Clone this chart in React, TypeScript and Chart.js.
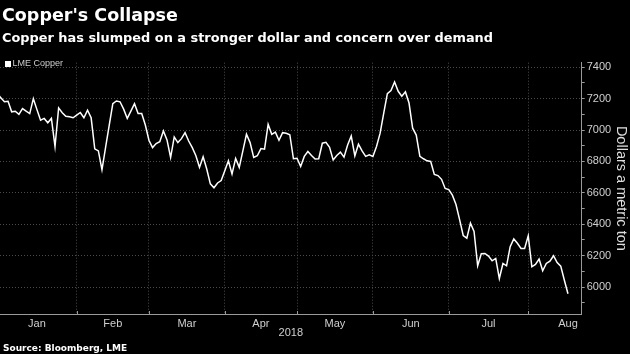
import { useEffect, useRef } from 'react';
import { Chart, registerables } from 'chart.js';

Chart.register(...registerables);

// Month labels and the trading-day index where each month starts (last entry = end of Aug)
const monthLabels = ['Jan', 'Feb', 'Mar', 'Apr', 'May', 'Jun', 'Jul', 'Aug'];
const monthStartIdx = [0, 22, 42, 63, 83, 104, 125, 147, 169];

// LME copper, dollars a metric ton, one value per trading day from Jan 2, 2018
const copperJan = [7235, 7205, 7180, 7183, 7116, 7120, 7100, 7137, 7120, 7105, 7200, 7130, 7063, 7074, 7046, 7074, 6895, 7141, 7110, 7088, 7084, 7078];
const copperFeb = [7095, 7112, 7078, 7126, 7078, 6880, 6867, 6747, 6890, 7030, 7168, 7185, 7180, 7133, 7074, 7120, 7168, 7105, 7105, 7032];
const copperMar = [6935, 6888, 6914, 6926, 6994, 6937, 6825, 6956, 6920, 6945, 6983, 6930, 6888, 6836, 6762, 6830, 6752, 6657, 6632, 6663, 6678];
const copperApr = [6741, 6804, 6720, 6819, 6762, 6867, 6973, 6920, 6825, 6836, 6882, 6878, 7036, 6973, 6987, 6935, 6983, 6979, 6970, 6817];
const copperMay = [6820, 6768, 6832, 6863, 6838, 6815, 6817, 6916, 6922, 6890, 6810, 6838, 6859, 6827, 6905, 6962, 6836, 6910, 6867, 6832, 6842];
const copperJun = [6832, 6895, 6980, 7108, 7232, 7251, 7306, 7247, 7215, 7243, 7172, 7012, 6968, 6832, 6817, 6804, 6800, 6717, 6710, 6686, 6628];
const copperJul = [6621, 6585, 6525, 6429, 6328, 6311, 6407, 6354, 6135, 6212, 6214, 6197, 6167, 6182, 6054, 6150, 6135, 6257, 6306, 6279, 6246, 6246];
const copperAug = [6326, 6129, 6144, 6178, 6103, 6150, 6165, 6199, 6156, 6133, 6043, 5957];

const copper = [...copperJan, ...copperFeb, ...copperMar, ...copperApr, ...copperMay, ...copperJun, ...copperJul, ...copperAug];

const yTicks = [5900, 6000, 6100, 6200, 6300, 6400, 6500, 6600, 6700, 6800, 6900, 7000, 7100, 7200, 7300, 7400];
const yMin = 5828;
const yMax = 7429;
const xMin = 0.77;
const xMax = 161.8;

const gridColor = '#4a4a4a';
const axisColor = '#9a9a9a';
const labelColor = '#cfcfcf';
const tickFont = { family: '"Liberation Sans", Arial, sans-serif', size: 11 };

const boundaries = monthStartIdx.slice(1, 8);
const centers = monthLabels.map((_, k) => (monthStartIdx[k] + monthStartIdx[k + 1]) / 2);

const monthTickPlugin = {
  id: 'monthTicks',
  afterDraw(chart: any) {
    const xs = chart.scales.x;
    const ctx = chart.ctx;
    const b = chart.chartArea.bottom;
    ctx.save();
    ctx.strokeStyle = axisColor;
    ctx.lineWidth = 1;
    boundaries.forEach((v) => {
      const px = Math.round(xs.getPixelForValue(v)) + 0.5;
      ctx.beginPath();
      ctx.moveTo(px, b);
      ctx.lineTo(px, b - 3);
      ctx.stroke();
    });
    ctx.restore();
  },
};

export default function App() {
  const ref = useRef<HTMLCanvasElement | null>(null);

  useEffect(() => {
    if (!ref.current) return;
    const chart = new Chart(ref.current, {
      type: 'line',
      data: {
        datasets: [
          {
            label: 'LME Copper',
            data: copper.map((v, i) => ({ x: i, y: v })),
            borderColor: '#ffffff',
            backgroundColor: '#ffffff',
            borderWidth: 1.5,
            pointRadius: 0,
            tension: 0,
          },
        ],
      },
      options: {
        animation: false,
        responsive: false,
        devicePixelRatio: 1,
        layout: { padding: { top: 62.7, left: 0, right: 0, bottom: 12 } },
        plugins: {
          legend: { display: false },
          tooltip: { enabled: false },
        },
        scales: {
          x: {
            type: 'linear',
            min: xMin,
            max: xMax,
            afterBuildTicks: (scale: any) => {
              scale.ticks = [...boundaries, ...centers].map((v) => ({ value: v }));
            },
            afterFit: (scale: any) => {
              scale.height = 28;
            },
            ticks: {
              autoSkip: false,
              maxRotation: 0,
              padding: 3,
              color: labelColor,
              font: tickFont,
              callback: (value: any) => {
                const k = centers.indexOf(Number(value));
                return k >= 0 ? monthLabels[k] : '';
              },
            },
            grid: {
              drawTicks: false,
              color: (ctx: any) => (ctx.tick && boundaries.includes(ctx.tick.value) ? gridColor : 'rgba(0,0,0,0)'),
              lineWidth: 1,
            },
            border: { display: true, color: axisColor, width: 1, dash: [1, 2] },
            title: {
              display: true,
              text: '2018',
              color: labelColor,
              font: tickFont,
              padding: { top: 0, bottom: 2 },
            },
          },
          y: {
            type: 'linear',
            position: 'right',
            min: yMin,
            max: yMax,
            afterBuildTicks: (scale: any) => {
              scale.ticks = yTicks.map((v) => ({ value: v }));
            },
            afterFit: (scale: any) => {
              scale.width = 48.3;
            },
            ticks: {
              padding: 2,
              color: labelColor,
              font: tickFont,
              callback: (value: any) => (Number(value) % 200 === 0 ? String(value) : ''),
            },
            grid: {
              drawTicks: true,
              tickLength: 3,
              tickColor: axisColor,
              tickBorderDash: [],
              color: (ctx: any) => (ctx.tick && ctx.tick.value % 200 === 0 ? gridColor : 'rgba(0,0,0,0)'),
              lineWidth: 1,
            },
            border: { display: true, color: axisColor, width: 1, dash: [1, 2] },
            title: {
              display: true,
              text: 'Dollars a metric ton',
              color: '#dddddd',
              font: { family: '"Liberation Sans", Arial, sans-serif', size: 14.5 },
              padding: { top: 0, bottom: 0 },
            },
          },
        },
      },
      plugins: [monthTickPlugin],
    } as any);
    return () => chart.destroy();
  }, []);

  const bold = '"DejaVu Sans", sans-serif';
  return (
    <div style={{ position: 'absolute', left: 0, top: 0, width: 630, height: 354, background: '#000', overflow: 'hidden' }}>
      <canvas ref={ref} width={630} height={354} style={{ position: 'absolute', left: 0, top: 0, width: 630, height: 354 }} />
      <div style={{ position: 'absolute', left: 2, top: 6, fontFamily: bold, fontWeight: 'bold', fontSize: 17.5, lineHeight: '18px', color: '#fff', whiteSpace: 'nowrap' }}>
        Copper's Collapse
      </div>
      <div style={{ position: 'absolute', left: 2, top: 31, fontFamily: bold, fontWeight: 'bold', fontSize: 12.9, lineHeight: '13px', color: '#fff', whiteSpace: 'nowrap' }}>
        Copper has slumped on a stronger dollar and concern over demand
      </div>
      <div style={{ position: 'absolute', left: 5, top: 58, display: 'flex', alignItems: 'center', whiteSpace: 'nowrap' }}>
        <span style={{ display: 'inline-block', width: 6, height: 6, background: '#fff', marginRight: 1.5 }} />
        <span style={{ fontFamily: '"Liberation Sans", Arial, sans-serif', fontSize: 9, lineHeight: '11px', color: '#cccccc' }}>LME Copper</span>
      </div>
      <div style={{ position: 'absolute', left: 3, top: 343, fontFamily: bold, fontWeight: 'bold', fontSize: 9, lineHeight: '11px', color: '#fff', whiteSpace: 'nowrap' }}>
        Source: Bloomberg, LME
      </div>
    </div>
  );
}
